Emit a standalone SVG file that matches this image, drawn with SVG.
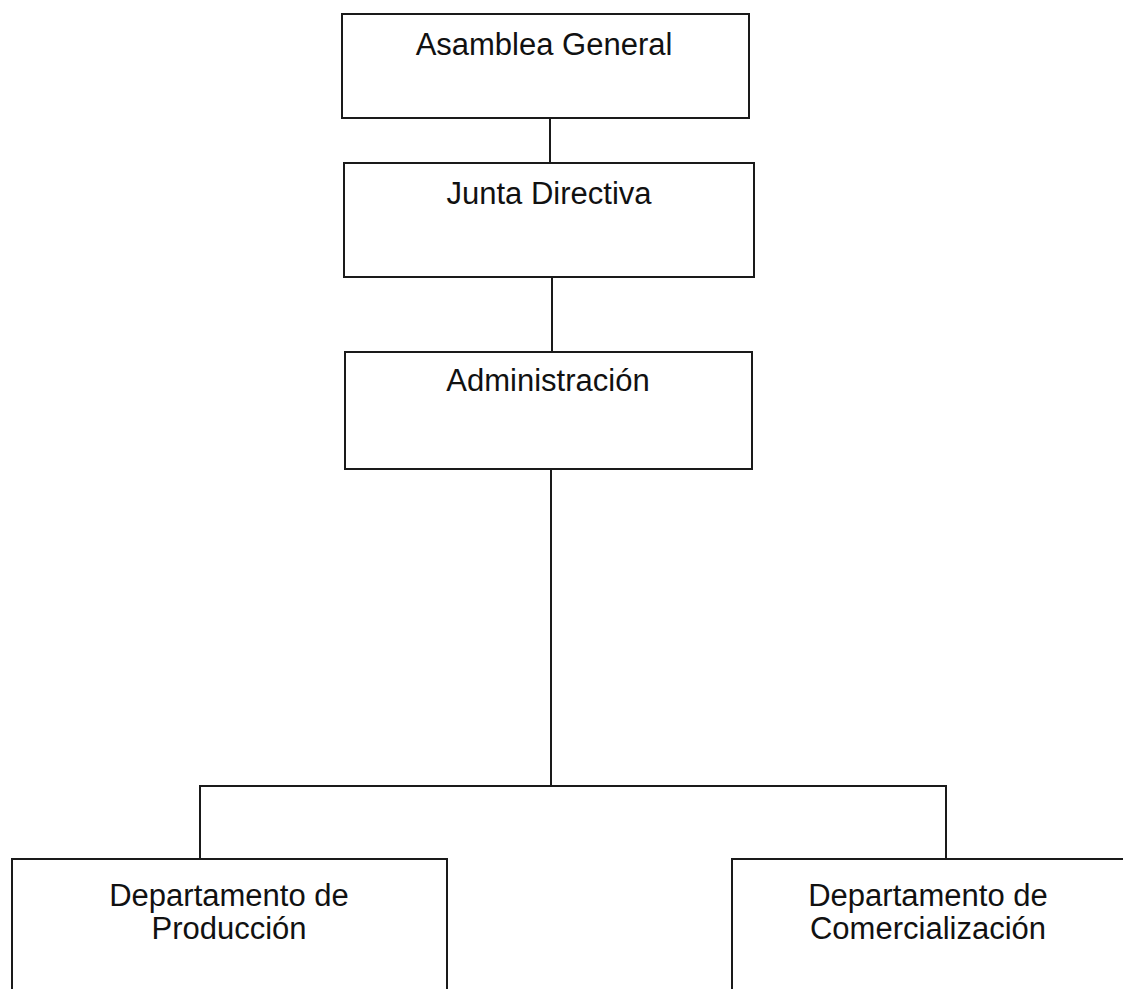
<svg xmlns="http://www.w3.org/2000/svg" width="1123" height="989" viewBox="0 0 1123 989">
<style>
.box{fill:#fff;stroke:#1a1a1a;stroke-width:2}
.ln{fill:none;stroke:#1a1a1a;stroke-width:2}
.t{font-family:"Liberation Sans",Arial,sans-serif;font-size:31px;fill:#111;text-anchor:middle}
</style>
<rect width="1123" height="989" fill="#fff"/>
<g id="connectors">
<line class="ln" x1="550" y1="118" x2="550" y2="163"/>
<line class="ln" x1="552" y1="277" x2="552" y2="352"/>
<line class="ln" x1="551" y1="469" x2="551" y2="786"/>
<polyline class="ln" points="200,859 200,786 946,786 946,859"/>
</g>
<g id="asamblea">
<rect class="box" x="342" y="14" width="407" height="104"/>
<text class="t" x="544" y="55">Asamblea General</text>
</g>
<g id="junta">
<rect class="box" x="344" y="163" width="410" height="114"/>
<text class="t" x="549" y="204">Junta Directiva</text>
</g>
<g id="administracion">
<rect class="box" x="345" y="352" width="407" height="117"/>
<text class="t" x="548" y="391">Administración</text>
</g>
<g id="produccion">
<rect class="box" x="12" y="859" width="435" height="140"/>
<text class="t" x="229" y="906">Departamento de</text>
<text class="t" x="229" y="939">Producción</text>
</g>
<g id="comercializacion">
<rect class="box" x="732" y="859" width="400" height="140"/>
<text class="t" x="928" y="906">Departamento de</text>
<text class="t" x="928" y="939">Comercialización</text>
</g>
</svg>
